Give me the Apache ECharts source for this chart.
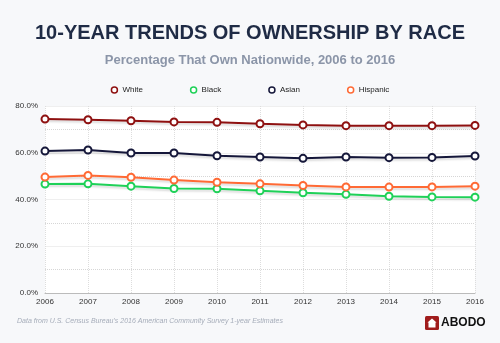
<!DOCTYPE html>
<html><head><meta charset="utf-8">
<script src="https://cdn.jsdelivr.net/npm/echarts@6/dist/echarts.min.js"></script>
<style>html,body{margin:0;padding:0;background:#f7f8fa}#c{width:500px;height:343px}</style>
</head><body><div id="c"></div>
<script>
const years = ['2006','2007','2008','2009','2010','2011','2012','2013','2014','2015','2016'];
const white = [74.4,74.1,73.7,73.2,73.0,72.4,71.9,71.6,71.6,71.6,71.7];
const black = [46.6,46.7,45.7,44.7,44.6,43.7,42.9,42.2,41.4,41.1,41.0];
const asian = [60.7,61.2,59.9,59.9,58.7,58.2,57.6,58.2,57.9,58.0,58.6];
const hispanic = [49.6,50.3,49.5,48.3,47.4,46.7,46.0,45.4,45.3,45.4,45.7];
const seriesNames = ['White','Black','Asian','Hispanic'];
const colors = ['#8e1010','#1fd158','#15173a','#ff6a35'];
const dataSets = [white, black, asian, hispanic];

const chart = echarts.init(document.getElementById('c'));
const font = 'Liberation Sans, Arial, sans-serif';
chart.setOption({
  backgroundColor: '#f7f8fa',
  animation: false,
  color: colors,
  title: [{
    text: '10-YEAR TRENDS OF OWNERSHIP BY RACE',
    left: 'center', top: 18,
    textStyle: {fontFamily: font, fontSize: 20, fontWeight: 'bold', color: '#1f2b45'}
  },{
    text: 'Percentage That Own Nationwide, 2006 to 2016',
    left: 'center', top: 49,
    textStyle: {fontFamily: font, fontSize: 13, fontWeight: 'bold', color: '#8b95a8'}
  }],
  legend: {
    top: 81, left: 'center', itemGap: 47, itemWidth: 6, itemHeight: 6,
    icon: 'circle',
    textStyle: {fontFamily: font, fontSize: 8, color: '#222'},
    data: seriesNames.map((n, i) => ({name: n, itemStyle: {color: '#ffffff', borderColor: colors[i], borderWidth: 1.5}}))
  },
  grid: {left: 45, right: 25, top: 106, bottom: 50, show: true, backgroundColor: '#ffffff', borderWidth: 0},
  xAxis: {
    type: 'category', data: years, boundaryGap: false,
    axisLine: {lineStyle: {color: '#bbbbbb', width: 1}},
    axisTick: {show: false},
    axisLabel: {fontFamily: font, fontSize: 8, color: '#333', margin: 5},
    splitLine: {show: true, lineStyle: {color: '#dddddd', type: 'dotted'}}
  },
  yAxis: {
    type: 'value', min: 0, max: 80, interval: 20,
    axisLine: {show: false}, axisTick: {show: false},
    axisLabel: {fontFamily: font, fontSize: 8, color: '#333', margin: 7, formatter: v => v.toFixed(1) + '%'},
    splitLine: {show: true, lineStyle: {color: '#efefef', type: 'solid'}},
    minorTick: {show: false, splitNumber: 2},
    minorSplitLine: {show: true, lineStyle: {color: '#d6d6d6', type: 'dotted'}}
  },
  series: dataSets.map((d, i) => ({
    name: seriesNames[i], type: 'line', data: d,
    symbol: 'circle', symbolSize: 7,
    itemStyle: {color: '#ffffff', borderColor: colors[i], borderWidth: 2},
    lineStyle: {color: colors[i], width: 2, shadowColor: 'rgba(0,0,0,0.15)', shadowBlur: 2, shadowOffsetY: 2}
  })),
  graphic: [
    {type: 'text', left: 17, top: 318, style: {text: "Data from U.S. Census Bureau's 2016 American Community Survey 1-year Estimates", font: 'italic 7px Liberation Sans, Arial, sans-serif', fill: '#a5acb9'}},
    {type: 'rect', shape: {x: 425, y: 316, width: 14, height: 14, r: 1.5}, style: {fill: '#a01c1c'}},
    {type: 'polygon', shape: {points: [[432,318.5],[436.5,322.5],[435.5,322.5],[435.5,327.5],[428.5,327.5],[428.5,322.5],[427.5,322.5]]}, style: {fill: '#ffffff'}},
    {type: 'text', left: 441, top: 317, style: {text: 'ABODO', font: 'bold 12px Liberation Sans, Arial, sans-serif', fill: '#111'}}
  ]
});
</script></body></html>
